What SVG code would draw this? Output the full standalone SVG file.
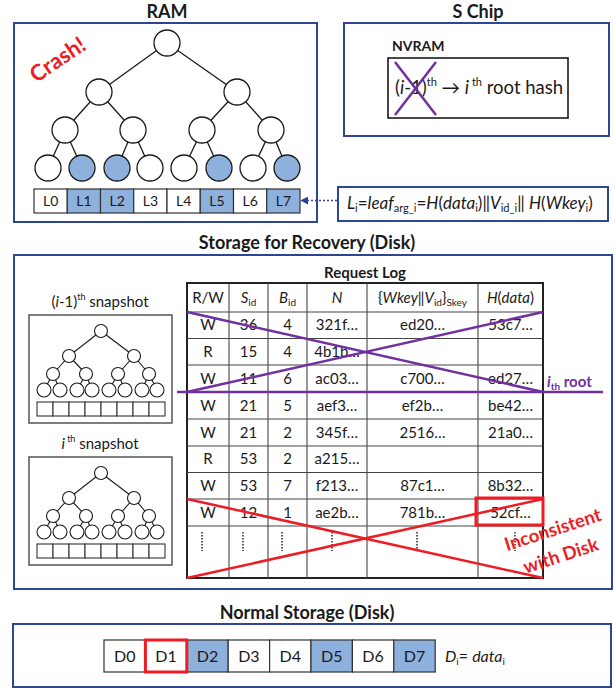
<svg xmlns="http://www.w3.org/2000/svg" xmlns:xlink="http://www.w3.org/1999/xlink" width="615" height="689" viewBox="0 0 615 689">
<style>
text{font-family:Lato,"Liberation Sans",sans-serif;fill:#1a1a1a}
.title{font-size:18px;font-weight:bold;text-anchor:middle}
.frame{fill:none;stroke:#2E4593;stroke-width:2}
.edge{stroke:#1a1a1a;stroke-width:1.3}
.nd{fill:#fff;stroke:#1a1a1a;stroke-width:1.3}
.blue{fill:#8EB0DC}
.cell{stroke:#333;stroke-width:1.2}
.snap{fill:#fff;stroke:#555;stroke-width:1.5}
.sn{fill:#fff;stroke:#1a1a1a;stroke-width:1.1}
.tb{font-size:15px;text-anchor:middle}
.grid{stroke:#444;stroke-width:1.1}
.purple{stroke:#7030A0;stroke-width:2.5}
.red{stroke:#EE1C25;stroke-width:2.5}
.it{font-style:italic}
.dots{stroke:#333;stroke-width:1.6;stroke-dasharray:1.4 1.6}
</style>
<defs>
<marker id="ah" viewBox="0 0 10 10" refX="9" refY="5" markerWidth="8" markerHeight="8" orient="auto" markerUnits="userSpaceOnUse">
<path d="M0,0 L10,5 L0,10 z" fill="#2E4593"/>
</marker>
<g id="snapTree">
<g class="edge" style="stroke-width:1.1">
<line x1="101" y1="331" x2="69" y2="356"/><line x1="101" y1="331" x2="134" y2="356"/>
<line x1="69" y1="356" x2="53" y2="374"/><line x1="69" y1="356" x2="86" y2="374"/>
<line x1="134" y1="356" x2="118" y2="374"/><line x1="134" y1="356" x2="149" y2="374"/>
<line x1="53" y1="374" x2="44" y2="390"/><line x1="53" y1="374" x2="60" y2="390"/>
<line x1="86" y1="374" x2="77" y2="390"/><line x1="86" y1="374" x2="92" y2="390"/>
<line x1="118" y1="374" x2="109" y2="390"/><line x1="118" y1="374" x2="125" y2="390"/>
<line x1="149" y1="374" x2="142" y2="390"/><line x1="149" y1="374" x2="157" y2="390"/>
</g>
<circle class="sn" cx="101" cy="331" r="6.5"/>
<circle class="sn" cx="69" cy="356" r="6.5"/><circle class="sn" cx="134" cy="356" r="6.5"/>
<circle class="sn" cx="53" cy="374" r="6.5"/><circle class="sn" cx="86" cy="374" r="6.5"/>
<circle class="sn" cx="118" cy="374" r="6.5"/><circle class="sn" cx="149" cy="374" r="6.5"/>
<circle class="sn" cx="44" cy="390" r="7"/><circle class="sn" cx="60" cy="390" r="7"/>
<circle class="sn" cx="77" cy="390" r="7"/><circle class="sn" cx="92" cy="390" r="7"/>
<circle class="sn" cx="109" cy="390" r="7"/><circle class="sn" cx="125" cy="390" r="7"/>
<circle class="sn" cx="142" cy="390" r="7"/><circle class="sn" cx="157" cy="390" r="7"/>
<g fill="#fff" stroke="#333" stroke-width="1.1">
<rect x="37" y="402" width="16" height="14"/><rect x="53" y="402" width="16" height="14"/>
<rect x="69" y="402" width="16" height="14"/><rect x="85" y="402" width="16" height="14"/>
<rect x="101" y="402" width="16" height="14"/><rect x="117" y="402" width="16" height="14"/>
<rect x="133" y="402" width="16" height="14"/><rect x="149" y="402" width="16" height="14"/>
</g>
</g>
</defs>
<rect width="615" height="689" fill="#fff"/>

<!-- RAM -->
<g id="ram">
<text class="title" x="167" y="18">RAM</text>
<rect class="frame" x="14" y="23" width="303" height="199"/>
<text x="58" y="67" font-size="22" font-weight="bold" style="fill:#EE1C25" text-anchor="middle" transform="rotate(-34 58 60)">Crash!</text>
<g class="edge">
<line x1="167" y1="43" x2="99" y2="92"/><line x1="167" y1="43" x2="237" y2="92"/>
<line x1="99" y1="92" x2="65" y2="130"/><line x1="99" y1="92" x2="133" y2="130"/>
<line x1="237" y1="92" x2="202" y2="130"/><line x1="237" y1="92" x2="271" y2="130"/>
<line x1="65" y1="130" x2="48" y2="168"/><line x1="65" y1="130" x2="82" y2="168"/>
<line x1="133" y1="130" x2="117" y2="168"/><line x1="133" y1="130" x2="150" y2="168"/>
<line x1="202" y1="130" x2="184" y2="168"/><line x1="202" y1="130" x2="219" y2="168"/>
<line x1="271" y1="130" x2="253" y2="168"/><line x1="271" y1="130" x2="287" y2="168"/>
</g>
<circle class="nd" cx="167" cy="43" r="13"/>
<circle class="nd" cx="99" cy="92" r="13"/><circle class="nd" cx="237" cy="92" r="13"/>
<circle class="nd" cx="65" cy="130" r="13"/><circle class="nd" cx="133" cy="130" r="13"/>
<circle class="nd" cx="202" cy="130" r="13"/><circle class="nd" cx="271" cy="130" r="13"/>
<circle class="nd" cx="48" cy="168" r="13"/><circle class="nd blue" cx="82" cy="168" r="13"/>
<circle class="nd blue" cx="117" cy="168" r="13"/><circle class="nd" cx="150" cy="168" r="13"/>
<circle class="nd" cx="184" cy="168" r="13"/><circle class="nd blue" cx="219" cy="168" r="13"/>
<circle class="nd" cx="253" cy="168" r="13"/><circle class="nd blue" cx="287" cy="168" r="13"/>
<g>
<rect class="cell" fill="#fff" x="34" y="189" width="33.25" height="24"/>
<rect class="cell blue" x="67.25" y="189" width="33.25" height="24"/>
<rect class="cell blue" x="100.5" y="189" width="33.25" height="24"/>
<rect class="cell" fill="#fff" x="133.75" y="189" width="33.25" height="24"/>
<rect class="cell" fill="#fff" x="167" y="189" width="33.25" height="24"/>
<rect class="cell blue" x="200.25" y="189" width="33.25" height="24"/>
<rect class="cell" fill="#fff" x="233.5" y="189" width="33.25" height="24"/>
<rect class="cell blue" x="266.75" y="189" width="33.25" height="24"/>
</g>
<g font-size="14" text-anchor="middle">
<text x="50.6" y="206">L0</text><text x="83.9" y="206">L1</text><text x="117.1" y="206">L2</text><text x="150.4" y="206">L3</text>
<text x="183.6" y="206">L4</text><text x="216.9" y="206">L5</text><text x="250.1" y="206">L6</text><text x="283.4" y="206">L7</text>
</g>
</g>

<!-- S Chip -->
<g id="schip">
<text class="title" x="478" y="18">S Chip</text>
<rect class="frame" x="344" y="23" width="265" height="113"/>
<text x="392" y="51" font-size="14" font-weight="bold">NVRAM</text>
<rect x="388" y="58" width="180" height="60" fill="none" stroke="#1a1a1a" stroke-width="1.6"/>
<text x="395" y="94" font-size="18.5">(<tspan class="it">i</tspan>-1)<tspan font-size="11" dy="-8">th</tspan><tspan dy="8"> → </tspan><tspan class="it">i</tspan><tspan font-size="11" dy="-8"> th</tspan><tspan dy="8"> root hash</tspan></text>
<line class="purple" x1="395" y1="62" x2="436" y2="115"/>
<line class="purple" x1="436" y1="62" x2="395" y2="115"/>
</g>

<!-- Formula -->
<g id="formula">
<rect class="frame" x="338" y="187" width="270" height="34"/>
<text x="347" y="209" font-size="17"><tspan class="it">L</tspan><tspan font-size="11" dy="3">i</tspan><tspan dy="-3">=</tspan><tspan class="it">leaf</tspan><tspan font-size="11" dy="3">arg_i</tspan><tspan dy="-3">=</tspan><tspan class="it">H</tspan>(<tspan class="it">data</tspan><tspan font-size="11" dy="3">i</tspan><tspan dy="-3">)‖</tspan><tspan class="it">V</tspan><tspan font-size="11" dy="3">id_i</tspan><tspan dy="-3">‖ </tspan><tspan class="it">H</tspan>(<tspan class="it">Wkey</tspan><tspan font-size="11" dy="3">i</tspan><tspan dy="-3">)</tspan></text>
</g>

<g id="connectors">
<line x1="337" y1="200.5" x2="301" y2="200.5" stroke="#2E4593" stroke-width="1.6" stroke-dasharray="2 2" marker-end="url(#ah)"/>
</g>

<!-- Storage for recovery -->
<g id="recovery">
<text class="title" x="307" y="249">Storage for Recovery (Disk)</text>
<rect class="frame" x="14" y="255" width="598" height="334"/>
<text x="100" y="307" font-size="15" text-anchor="middle">(<tspan class="it">i</tspan>-1)<tspan font-size="9" dy="-7">th</tspan><tspan dy="7"> snapshot</tspan></text>
<rect class="snap" x="29" y="315" width="143" height="108"/>
<use xlink:href="#snapTree"/>
<text x="100" y="449" font-size="15" text-anchor="middle"><tspan class="it">i</tspan><tspan font-size="9" dy="-7"> th</tspan><tspan dy="7"> snapshot</tspan></text>
<rect class="snap" x="29" y="457" width="143" height="108"/>
<use xlink:href="#snapTree" transform="translate(0 142)"/>
</g>

<!-- Request log table -->
<g id="requestlog">
<text x="365" y="278" font-size="15" font-weight="bold" text-anchor="middle">Request Log</text>
<rect x="187" y="283" width="356" height="295" fill="#fff" stroke="#222" stroke-width="2"/>
<g class="grid">
<line x1="229" y1="283" x2="229" y2="578"/><line x1="268" y1="283" x2="268" y2="578"/>
<line x1="307" y1="283" x2="307" y2="578"/><line x1="367" y1="283" x2="367" y2="578"/>
<line x1="478" y1="283" x2="478" y2="578"/>
<line x1="187" y1="312" x2="543" y2="312"/><line x1="187" y1="338.5" x2="543" y2="338.5"/>
<line x1="187" y1="365" x2="543" y2="365"/><line x1="187" y1="392" x2="543" y2="392"/>
<line x1="187" y1="419" x2="543" y2="419"/><line x1="187" y1="446" x2="543" y2="446"/>
<line x1="187" y1="472.5" x2="543" y2="472.5"/><line x1="187" y1="499" x2="543" y2="499"/>
<line x1="187" y1="526" x2="543" y2="526"/>
</g>
<g class="tb">
<text x="208" y="303">R/W</text>
<text x="248.5" y="303"><tspan class="it">S</tspan><tspan font-size="10" dy="3">id</tspan></text>
<text x="287.5" y="303"><tspan class="it">B</tspan><tspan font-size="10" dy="3">id</tspan></text>
<text x="337" y="303" class="it">N</text>
<text x="422.5" y="303">{<tspan class="it">Wkey</tspan>‖<tspan class="it">V</tspan><tspan font-size="10" dy="3">id</tspan><tspan dy="-3">}</tspan><tspan font-size="10" dy="3">Skey</tspan></text>
<text x="510.5" y="303"><tspan class="it">H</tspan>(<tspan class="it">data</tspan>)</text>

<text x="208" y="330">W</text><text x="248.5" y="330">36</text><text x="287.5" y="330">4</text><text x="337" y="330">321f…</text><text x="422.5" y="330">ed20…</text><text x="510.5" y="330">53c7…</text>
<text x="208" y="357">R</text><text x="248.5" y="357">15</text><text x="287.5" y="357">4</text><text x="337" y="357">4b1b…</text>
<text x="208" y="384">W</text><text x="248.5" y="384">11</text><text x="287.5" y="384">6</text><text x="337" y="384">ac03…</text><text x="422.5" y="384">c700…</text><text x="510.5" y="384">ed27…</text>
<text x="208" y="411">W</text><text x="248.5" y="411">21</text><text x="287.5" y="411">5</text><text x="337" y="411">aef3…</text><text x="422.5" y="411">ef2b…</text><text x="510.5" y="411">be42…</text>
<text x="208" y="438">W</text><text x="248.5" y="438">21</text><text x="287.5" y="438">2</text><text x="337" y="438">345f…</text><text x="422.5" y="438">2516…</text><text x="510.5" y="438">21a0…</text>
<text x="208" y="464">R</text><text x="248.5" y="464">53</text><text x="287.5" y="464">2</text><text x="337" y="464">a215…</text>
<text x="208" y="491">W</text><text x="248.5" y="491">53</text><text x="287.5" y="491">7</text><text x="337" y="491">f213…</text><text x="422.5" y="491">87c1…</text><text x="510.5" y="491">8b32…</text>
<text x="208" y="518">W</text><text x="248.5" y="518">12</text><text x="287.5" y="518">1</text><text x="337" y="518">ae2b…</text><text x="422.5" y="518">781b…</text><text x="510.5" y="518">52cf…</text>
</g>
<g class="dots">
<line x1="202" y1="532" x2="202" y2="551"/><line x1="243" y1="532" x2="243" y2="551"/>
<line x1="282" y1="532" x2="282" y2="551"/><line x1="332" y1="532" x2="332" y2="551"/>
<line x1="417" y1="532" x2="417" y2="551"/><line x1="515" y1="532" x2="515" y2="551"/>
</g>
<line class="purple" x1="187" y1="312" x2="543" y2="392"/>
<line class="purple" x1="543" y1="312" x2="187" y2="392"/>
<line class="purple" x1="177" y1="392" x2="603" y2="392"/>
<text x="547" y="387" font-size="15" font-weight="bold" style="fill:#7030A0"><tspan class="it">i</tspan><tspan font-size="10" dy="3">th</tspan><tspan dy="-3"> root</tspan></text>
<line class="red" x1="187" y1="499" x2="543" y2="578"/>
<line class="red" x1="187" y1="578" x2="543" y2="499"/>
<rect x="476" y="498" width="67" height="27" fill="none" stroke="#EE1C25" stroke-width="3"/>
<g font-size="18.5" font-weight="bold" text-anchor="middle">
<text x="553" y="536" transform="rotate(-18 553 530)" style="fill:#EE1C25">Inconsistent</text>
<text x="561" y="562" transform="rotate(-18 561 556)" style="fill:#EE1C25">with Disk</text>
</g>
</g>

<!-- Normal storage -->
<g id="normal">
<text class="title" x="307" y="619">Normal Storage (Disk)</text>
<rect class="frame" x="13" y="624" width="598" height="63"/>
<rect class="cell" fill="#fff" x="104" y="640" width="41.4" height="32"/>
<rect class="cell" fill="#fff" x="145.4" y="640" width="41.4" height="32"/>
<rect class="cell blue" x="186.8" y="640" width="41.4" height="32"/>
<rect class="cell" fill="#fff" x="228.2" y="640" width="41.4" height="32"/>
<rect class="cell" fill="#fff" x="269.6" y="640" width="41.4" height="32"/>
<rect class="cell blue" x="311" y="640" width="41.4" height="32"/>
<rect class="cell" fill="#fff" x="352.4" y="640" width="41.4" height="32"/>
<rect class="cell blue" x="393.8" y="640" width="41.4" height="32"/>
<rect x="145.4" y="640" width="41.4" height="32" fill="none" stroke="#EE1C25" stroke-width="3"/>
<g font-size="16" text-anchor="middle">
<text x="124.7" y="662">D0</text><text x="166.1" y="662">D1</text><text x="207.5" y="662">D2</text><text x="248.9" y="662">D3</text>
<text x="290.3" y="662">D4</text><text x="331.7" y="662">D5</text><text x="373.1" y="662">D6</text><text x="414.5" y="662">D7</text>
</g>
<text x="445" y="662" font-size="16"><tspan class="it">D</tspan><tspan font-size="10" dy="3">i</tspan><tspan dy="-3">= </tspan><tspan class="it">data</tspan><tspan font-size="10" dy="3">i</tspan></text>
</g>
</svg>
